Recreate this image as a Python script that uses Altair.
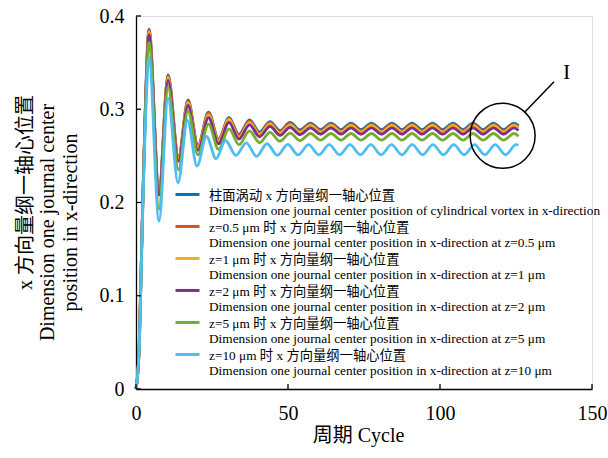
import altair as alt
import pandas as pd

FONT = "Liberation Serif, Noto Sans CJK SC"

# ---- data ----
X_MAIN = [0, 0.99, 2.07, 2.96, 4.28, 7.57, 10.53, 13.98, 17.11, 20.39, 23.85, 27.14,
          30.59, 33.88, 37.34, 40.63, 44.08, 47.37, 50.66, 53.95, 57.40, 60.69, 64.14,
          67.43, 70.72, 74.01, 77.47, 80.76, 84.21, 87.50, 90.79, 94.08, 97.53, 100.82,
          104.28, 107.57, 110.86, 114.14, 117.60, 120.89, 124.34, 125.82]
X_CYAN = [0, 0.99, 2.07, 2.96, 4.28, 7.57, 10.53, 13.82, 16.94, 20.07, 23.19, 26.32,
          29.44, 32.86, 36.27, 39.67, 43.09, 46.51, 49.92, 53.32, 56.74, 60.16, 63.57,
          66.97, 70.39, 73.82, 77.22, 80.63, 84.05, 87.47, 90.87, 94.28, 97.70, 101.12,
          104.52, 107.93, 111.35, 114.77, 118.17, 121.58, 125.00, 125.82]

Y_BLUE = [0, 0.040, 0.181, 0.290, 0.386, 0.213, 0.337, 0.249, 0.310, 0.261, 0.297, 0.268,
          0.291, 0.273, 0.2885, 0.2755, 0.2868, 0.2770, 0.2858, 0.2778, 0.2852, 0.2782,
          0.2852, 0.2782, 0.2852, 0.2782, 0.2852, 0.2782, 0.2852, 0.2782, 0.2852, 0.2782,
          0.2852, 0.2782, 0.2852, 0.2782, 0.2852, 0.2782, 0.2852, 0.2782, 0.2852, 0.2824]
Y_ORANGE = [0, 0.040, 0.180, 0.289, 0.385, 0.212, 0.336, 0.248, 0.309, 0.260, 0.296, 0.267,
            0.290, 0.272, 0.2873, 0.2743, 0.2856, 0.2758, 0.2846, 0.2766, 0.2840, 0.2770,
            0.2840, 0.2770, 0.2840, 0.2770, 0.2840, 0.2770, 0.2840, 0.2770, 0.2840, 0.2770,
            0.2840, 0.2770, 0.2840, 0.2770, 0.2840, 0.2770, 0.2840, 0.2770, 0.2840, 0.2812]
Y_YELLOW = [0, 0.040, 0.180, 0.288, 0.383, 0.211, 0.334, 0.247, 0.307, 0.259, 0.294, 0.266,
            0.289, 0.270, 0.2860, 0.2730, 0.2843, 0.2745, 0.2832, 0.2752, 0.2826, 0.2756,
            0.2826, 0.2756, 0.2826, 0.2756, 0.2826, 0.2756, 0.2826, 0.2756, 0.2826, 0.2756,
            0.2826, 0.2756, 0.2826, 0.2756, 0.2826, 0.2756, 0.2826, 0.2756, 0.2826, 0.2798]
Y_PURPLE = [0, 0.040, 0.179, 0.287, 0.380, 0.208, 0.331, 0.244, 0.304, 0.256, 0.291, 0.263,
            0.286, 0.268, 0.2833, 0.2705, 0.2816, 0.2719, 0.2806, 0.2727, 0.2800, 0.2732,
            0.2800, 0.2732, 0.2800, 0.2732, 0.2800, 0.2732, 0.2800, 0.2732, 0.2800, 0.2732,
            0.2800, 0.2732, 0.2800, 0.2732, 0.2800, 0.2732, 0.2800, 0.2732, 0.2800, 0.2772]
Y_GREEN = [0, 0.039, 0.177, 0.283, 0.372, 0.193, 0.324, 0.235, 0.298, 0.251, 0.284, 0.257,
           0.279, 0.262, 0.2768, 0.2642, 0.2752, 0.2657, 0.2745, 0.2664, 0.2740, 0.2668,
           0.2740, 0.2668, 0.2740, 0.2668, 0.2740, 0.2668, 0.2740, 0.2668, 0.2740, 0.2668,
           0.2740, 0.2668, 0.2740, 0.2668, 0.2740, 0.2668, 0.2740, 0.2668, 0.2740, 0.2710]
Y_CYAN = [0, 0.038, 0.172, 0.272, 0.355, 0.180, 0.312, 0.221, 0.288, 0.239, 0.271, 0.247,
          0.2665, 0.2505, 0.2640, 0.2495, 0.2630, 0.2505, 0.2624, 0.2510, 0.2620, 0.2512,
          0.2620, 0.2512, 0.2620, 0.2512, 0.2620, 0.2512, 0.2620, 0.2512, 0.2620, 0.2512,
          0.2620, 0.2512, 0.2620, 0.2512, 0.2620, 0.2512, 0.2620, 0.2512, 0.2620, 0.2615]

SERIES = [
    "柱面涡动 x 方向量纲一轴心位置|Dimension one journal center position of cylindrical vortex in x-direction",
    "z=0.5 μm 时 x 方向量纲一轴心位置|Dimension one journal center position in x-direction at z=0.5 μm",
    "z=1 μm 时 x 方向量纲一轴心位置|Dimension one journal center position in x-direction at z=1 μm",
    "z=2 μm 时 x 方向量纲一轴心位置|Dimension one journal center position in x-direction at z=2 μm",
    "z=5 μm 时 x 方向量纲一轴心位置|Dimension one journal center position in x-direction at z=5 μm",
    "z=10 μm 时 x 方向量纲一轴心位置|Dimension one journal center position in x-direction at z=10 μm",
]
COLORS = ["#0072BD", "#D95319", "#EDB120", "#7E2F8E", "#77AC30", "#4DBEEE"]

TICK_X = [0, 50, 100, 150]
TICK_Y = [0, 0.1, 0.2, 0.3, 0.4]

CIRCLE_X = [120.6]
CIRCLE_Y = [0.2715]
POINTER_X = [128.0]
POINTER_Y = [0.2974]
POINTER_X2 = [137.5]
POINTER_Y2 = [0.3295]
MARK_X = [141.7]
MARK_Y = [0.340]
MARK_TEXT = ["I"]

Y_TITLE = ["\u200b\u3000\u3000\u3000x 方向量纲一轴心位置", "Dimension one journal center",
           "position in x-direction"]

W, H = 456, 373

# ---- build table ----
rows = []
for name, xs, ys in [
    (SERIES[0], X_MAIN, Y_BLUE), (SERIES[1], X_MAIN, Y_ORANGE), (SERIES[2], X_MAIN, Y_YELLOW),
    (SERIES[3], X_MAIN, Y_PURPLE), (SERIES[4], X_MAIN, Y_GREEN), (SERIES[5], X_CYAN, Y_CYAN)]:
    for i, (a, b) in enumerate(zip(xs, ys)):
        rows.append({"x": a, "y": b, "series": name, "i": i})
df = pd.DataFrame(rows)

SX = alt.Scale(domain=[0, 150], nice=False, zero=False)
SY = alt.Scale(domain=[0, 0.4], nice=False, zero=False)

AX_X = alt.Axis(values=TICK_X, ticks=False, tickSize=0, grid=False, domainColor="black",
                domainWidth=1.3, labelFont=FONT, labelFontSize=20, labelColor="black",
                labelPadding=14, labelFlush=False, title="周期 Cycle", titleFont=FONT,
                titleFontSize=20, titleFontWeight="normal", titleColor="black",
                titleBaseline="middle", titleY=46, titleX=222)
AX_Y = alt.Axis(values=TICK_Y, ticks=False, tickSize=0, grid=False, domainColor="black",
                domainWidth=1.3, labelFont=FONT, labelFontSize=20, labelColor="black",
                labelPadding=12, labelFlush=False, format="~g", title=Y_TITLE,
                titleFont=FONT, titleFontSize=20, titleFontWeight="normal",
                titleColor="black", titleLineHeight=22.5, titleX=-101, titleY=206)

X = alt.X("x:Q", scale=SX, axis=AX_X)
Y = alt.Y("y:Q", scale=SY, axis=AX_Y)

lines = alt.Chart(df).mark_line(strokeWidth=2.8, interpolate="monotone").encode(
    x=X, y=Y,
    color=alt.Color("series:N", scale=alt.Scale(domain=SERIES, range=COLORS),
                    legend=alt.Legend(title=None, orient="none", legendX=38, legendY=170,
                                      direction="vertical", columns=1, padding=0,
                                      symbolType="M-1,-0.42L1,-0.42", symbolSize=576,
                                      symbolStrokeWidth=3, labelFont=FONT,
                                      labelFontSize=13.3, labelColor="black",
                                      labelLimit=700, labelOffset=8,
                                      labelBaseline="alphabetic", rowPadding=0,
                                      labelExpr="split(datum.label, '|')")),
    order="i:Q",
)

xt = alt.Chart(pd.DataFrame({"x": TICK_X})).mark_rule(color="black", strokeWidth=1.3).encode(
    x=X, y=alt.value(H), y2=alt.value(H - 5))
yt = alt.Chart(pd.DataFrame({"y": TICK_Y})).mark_rule(color="black", strokeWidth=1.3).encode(
    y=Y, x=alt.value(0), x2=alt.value(5))

circ = alt.Chart(pd.DataFrame({"x": CIRCLE_X, "y": CIRCLE_Y})).mark_point(
    shape="circle", size=4225, filled=False, color="black", strokeWidth=1.5, opacity=1
).encode(x=X, y=Y)
pointer = alt.Chart(pd.DataFrame({"x": POINTER_X, "y": POINTER_Y, "x2": POINTER_X2,
                                  "y2": POINTER_Y2})).mark_rule(
    color="black", strokeWidth=1.5).encode(x=X, y=Y, x2="x2:Q", y2="y2:Q")
label = alt.Chart(pd.DataFrame({"x": MARK_X, "y": MARK_Y, "t": MARK_TEXT})).mark_text(
    font=FONT, fontSize=22, color="black").encode(x=X, y=Y, text="t:N")

chart = alt.layer(lines, xt, yt, circ, pointer, label).properties(
    width=W, height=H,
    autosize=alt.AutoSizeParams(type="none"),
    padding={"left": 136, "top": 16, "right": 16, "bottom": 69},
).configure_view(stroke=None).configure(background="white")

chart.save("out.html", embed_options={"renderer": "svg", "actions": False})
